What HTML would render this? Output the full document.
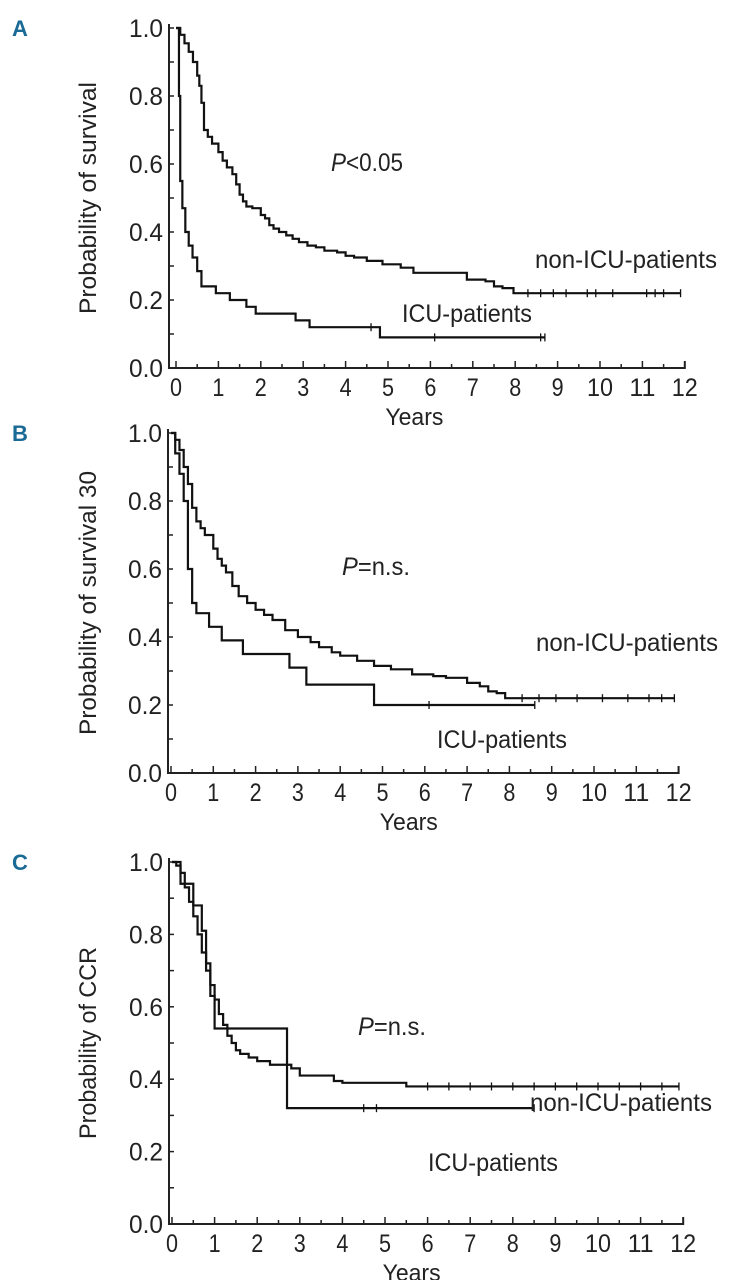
<!DOCTYPE html>
<html><head><meta charset="utf-8"><style>
body{margin:0;background:#fff}
svg text{font-family:"Liberation Sans",sans-serif;fill:#222}
</style></head><body>
<svg id="c" width="731" height="1280" viewBox="0 0 731 1280" xmlns="http://www.w3.org/2000/svg"></svg>
<script>
// Panel A
const aNonT=[0,0.1,0.2,0.3,0.4,0.5,0.55,0.6,0.66,0.75,0.85,1.0,1.1,1.2,1.33,1.42,1.5,1.58,1.66,1.8,2.0,2.1,2.2,2.3,2.43,2.6,2.75,2.9,3.1,3.3,3.5,3.8,4.0,4.2,4.5,4.87,5.3,5.6,6.5,6.86,7.3,7.5,7.7,7.96];
const aNonS=[1,0.98,0.955,0.93,0.9,0.86,0.83,0.78,0.70,0.68,0.66,0.635,0.61,0.59,0.57,0.54,0.51,0.49,0.475,0.47,0.45,0.44,0.42,0.41,0.40,0.39,0.38,0.37,0.36,0.355,0.345,0.34,0.33,0.325,0.315,0.305,0.295,0.28,0.28,0.26,0.255,0.24,0.235,0.22];
const aIcuT=[0,0.07,0.1,0.15,0.22,0.3,0.39,0.5,0.6,0.94,1.27,1.66,1.88,2.82,3.15,4.81];
const aIcuS=[1,0.8,0.55,0.47,0.40,0.36,0.325,0.285,0.24,0.22,0.20,0.18,0.16,0.14,0.12,0.09];
const aNonCens=[8.3,8.6,8.9,9.2,9.7,9.9,10.3,11.1,11.3,11.5,11.9];
const aIcuCens=[4.6,6.1,8.6,8.7];
// Panel B
const bNonT=[0,0.1,0.2,0.3,0.4,0.5,0.6,0.7,0.8,1.0,1.1,1.2,1.3,1.45,1.6,1.8,2.0,2.2,2.4,2.7,3.0,3.3,3.5,3.8,4.0,4.4,4.8,5.2,5.7,6.2,6.5,7.0,7.3,7.5,7.7,7.9];
const bNonS=[1,0.98,0.95,0.9,0.85,0.78,0.74,0.72,0.70,0.66,0.63,0.61,0.59,0.55,0.52,0.50,0.48,0.465,0.45,0.42,0.40,0.385,0.37,0.355,0.345,0.33,0.315,0.305,0.29,0.285,0.28,0.265,0.255,0.24,0.235,0.22];
const bIcuT=[0,0.1,0.2,0.3,0.4,0.5,0.6,0.9,1.2,1.7,2.8,3.2,4.8];
const bIcuS=[1,0.94,0.88,0.8,0.6,0.5,0.47,0.43,0.39,0.35,0.31,0.26,0.20];
const bNonCens=[8.3,8.7,9.1,9.6,10.2,10.8,11.3,11.6,11.9];
const bIcuCens=[6.1,8.6];
// Panel C
const cNonT=[0,0.1,0.2,0.3,0.4,0.5,0.6,0.7,0.8,0.9,1.0,1.1,1.2,1.3,1.4,1.5,1.6,1.8,2.0,2.3,2.6,2.8,3.0,3.6,3.8,4.0,5.5];
const cNonS=[1,0.99,0.97,0.93,0.89,0.85,0.8,0.75,0.7,0.66,0.62,0.58,0.55,0.52,0.5,0.48,0.47,0.46,0.45,0.44,0.44,0.43,0.41,0.41,0.395,0.39,0.38];
const cIcuT=[0,0.2,0.5,0.7,0.8,0.9,1.0,2.7];
const cIcuS=[1,0.94,0.88,0.81,0.72,0.63,0.54,0.32];
const cNonCens=[6.0,6.5,7.0,7.5,8.0,8.5,9.0,9.5,10.0,10.5,11.0,11.5,11.9];
const cIcuCens=[4.5,4.8,8.5];
const xTicks=[0,1,2,3,4,5,6,7,8,9,10,11,12];
const yTicks=[0,0.2,0.4,0.6,0.8,1.0];

const svg=document.getElementById('c');
const NS='http://www.w3.org/2000/svg';
function mk(tag,attrs,parent){const e=document.createElementNS(NS,tag);for(const k in attrs)e.setAttribute(k,attrs[k]);(parent||svg).appendChild(e);return e;}
function txt(s,x,y,size,parent,extra){const t=mk('text',Object.assign({x:x,y:y,'font-size':size},extra||{}),parent);t.textContent=s;return t;}

function panel(cfg){
  const g=mk('g',{});
  
  
  const X=v=>cfg.x0+v*cfg.xs;
  const Y=v=>cfg.y0-v*(cfg.y0-cfg.y1);
  const lbl=txt(cfg.id,12,cfg.y1+8,22,g,{'font-weight':'bold',style:'fill:#1a6a96'});
  
  
  const ax=mk('path',{d:`M${cfg.ax} ${cfg.y1-4} V${cfg.y0} H${X(12)} v-7`,stroke:'#222','stroke-width':2,fill:'none'},g);
  
  
  for(let i=0;i<=10;i++){const yy=Y(i/10);mk('line',{x1:cfg.ax,x2:cfg.ax+5,y1:yy,y2:yy,stroke:'#222','stroke-width':1.5},g);}
  yTicks.forEach(v=>{const t=txt(v.toFixed(1),cfg.ax-6,Y(v)+9,25,g,{'text-anchor':'end',textLength:34,lengthAdjust:'spacingAndGlyphs'});
    
    });
  for(let i=0;i<=24;i++){const xx=X(i/2);mk('line',{x1:xx,x2:xx,y1:cfg.y0,y2:cfg.y0-(i%2?4:7),stroke:'#222','stroke-width':1.5},g);}
  xTicks.forEach(v=>{const t=txt(String(v),X(v),cfg.y0+28,25,g,{'text-anchor':'middle',textLength:v>=10?26:12,lengthAdjust:'spacingAndGlyphs'});
    
    });
  const xt=txt('Years',X(6)-16,cfg.y0+57,24,g,{'text-anchor':'middle',textLength:58,lengthAdjust:'spacingAndGlyphs'});
  
  
  const cy=(cfg.y0+cfg.y1)/2;
  const yt=txt(cfg.ytitle,0,0,24,g,{'text-anchor':'middle',transform:`translate(96,${cy}) rotate(-90)`,textLength:cfg.ytl,lengthAdjust:'spacingAndGlyphs'});
  
  
  function curve(T,S,end,cens,name){
    let d=`M${X(T[0])} ${Y(S[0])}`;
    for(let i=1;i<T.length;i++){d+=` H${X(T[i])} V${Y(S[i])}`;}
    d+=` H${X(end)}`;
    const p=mk('path',{d:d,stroke:'#111','stroke-width':2.2,fill:'none'},g);
    
    
    cens.forEach(c=>{let s=S[0];for(let i=0;i<T.length;i++)if(T[i]<=c)s=S[i];
      const m=mk('line',{x1:X(c),x2:X(c),y1:Y(s)-4,y2:Y(s)+4,stroke:'#111','stroke-width':1.3},g);
      
      });
  }
  curve(cfg.nT,cfg.nS,cfg.nEnd,cfg.nC,'non-icu-curve');
  curve(cfg.iT,cfg.iS,cfg.iEnd,cfg.iC,'icu-curve');
  const pv=mk('text',{x:cfg.px,y:cfg.py,'font-size':25,textLength:cfg.pl,lengthAdjust:'spacingAndGlyphs'},g);
  pv.innerHTML='<tspan font-style="italic">P</tspan>'+cfg.ptxt;
  
  
  const l1=txt('non-ICU-patients',cfg.nlx,cfg.nly,25,g,{textLength:182,lengthAdjust:'spacingAndGlyphs'});
  
  
  const l2=txt('ICU-patients',cfg.ilx,cfg.ily,25,g,{textLength:130,lengthAdjust:'spacingAndGlyphs'});
  
  
}
panel({id:'A',x0:176,xs:42.4,ax:169,y0:368,y1:28,ytitle:'Probability of survival',ytl:232,
  nT:aNonT,nS:aNonS,nEnd:11.9,nC:aNonCens,iT:aIcuT,iS:aIcuS,iEnd:8.7,iC:aIcuCens,
  px:331,py:171,pl:72,ptxt:'&lt;0.05',nlx:535,nly:268,ilx:402,ily:322});
panel({id:'B',x0:171,xs:42.3,ax:168,y0:773,y1:433,ytitle:'Probability of survival 30',ytl:264,
  nT:bNonT,nS:bNonS,nEnd:11.9,nC:bNonCens,iT:bIcuT,iS:bIcuS,iEnd:8.6,iC:bIcuCens,
  px:342,py:575,pl:68,ptxt:'=n.s.',nlx:536,nly:651,ilx:437,ily:748});
panel({id:'C',x0:172,xs:42.6,ax:169,y0:1224,y1:862,ytitle:'Probability of CCR',ytl:192,
  nT:cNonT,nS:cNonS,nEnd:11.9,nC:cNonCens,iT:cIcuT,iS:cIcuS,iEnd:8.5,iC:cIcuCens,
  px:358,py:1035,pl:68,ptxt:'=n.s.',nlx:530,nly:1111,ilx:428,ily:1171});
</script>
</body></html>
